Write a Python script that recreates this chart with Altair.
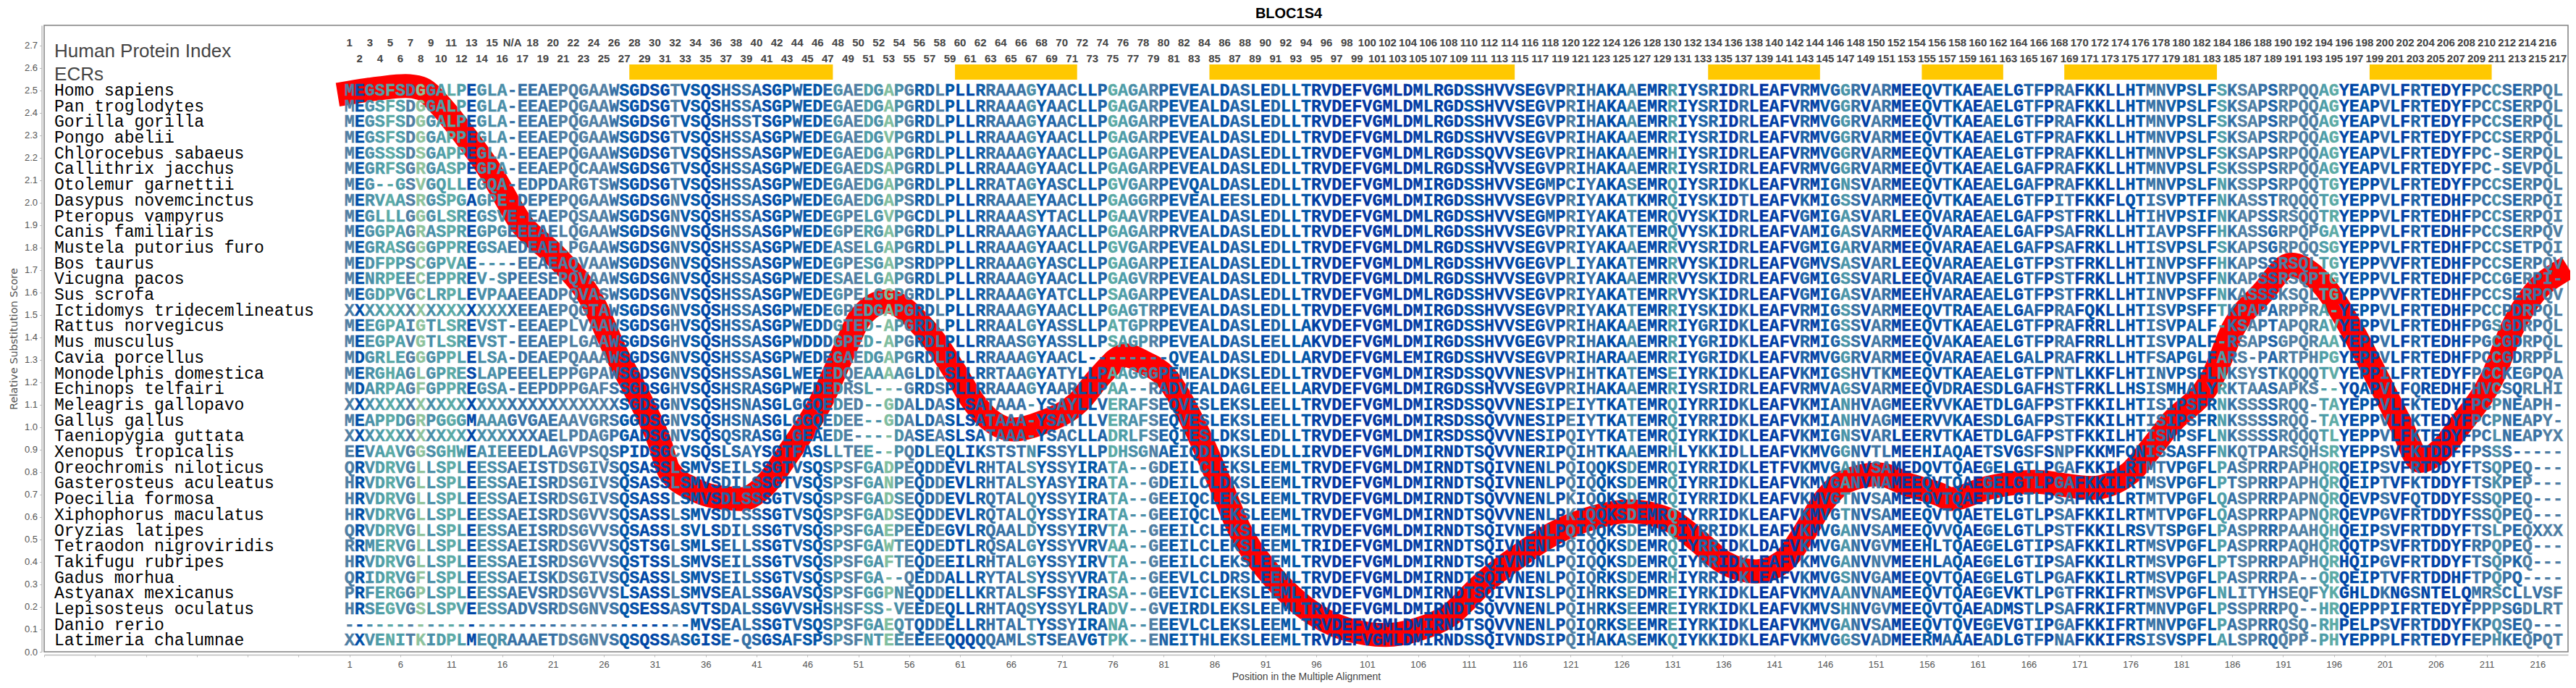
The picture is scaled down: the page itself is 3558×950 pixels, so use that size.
import altair as alt
import pandas as pd

alt.data_transformers.disable_max_rows()

species = ["Homo sapiens","Pan troglodytes","Gorilla gorilla","Pongo abelii","Chlorocebus sabaeus","Callithrix jacchus",
"Otolemur garnettii","Dasypus novemcinctus","Pteropus vampyrus","Canis familiaris","Mustela putorius furo","Bos taurus",
"Vicugna pacos","Sus scrofa","Ictidomys tridecemlineatus","Rattus norvegicus","Mus musculus","Cavia porcellus",
"Monodelphis domestica","Echinops telfairi","Meleagris gallopavo","Gallus gallus","Taeniopygia guttata","Xenopus tropicalis",
"Oreochromis niloticus","Gasterosteus aculeatus","Poecilia formosa","Xiphophorus maculatus","Oryzias latipes",
"Tetraodon nigroviridis","Takifugu rubripes","Gadus morhua","Astyanax mexicanus","Lepisosteus oculatus","Danio rerio",
"Latimeria chalumnae"]

seg_a = ["MEGSFSDGGALPEGLA-EEAEPQGAAWSGD","MEGSFSDGGALPEGLA-EEAEPQGAAWSGD","MEGSFSDGGALPEGLA-EEAEPQGAAWSGD",
"MEGSFSDGGAPPEGLA-EEAEPQGAAWSGD","MEGSSSDSGAPPEGLA-EEAEPQGAAWSGD","MEGRFSGRGASPEGPA-EEAEPQCAAWSGD",
"MEG--GSVGQLLEGQA-EDPDARGTSWSGD","MERVAASRGSPGAGPE-DEPEPQGAAWSGD","MEGLLLGGGLSREGSVE-EAEPQSAAWSGD",
"MEGGPAGRASPREGPGEEEAELQGAAWSGD","MEGRASGGGPPREGSAEDEAELPGAAWSGD","MEDFPPSCGPVAE----EEAEAQVAAWSGD",
"MENRPEECEPPREV-SPEESEPQVAAWSGD","MEGDPVGCLRPLEVPAAEEADPQVASWSGD","XXXXXXXXXXXXXXXXXEEAEPQGTAWSGD",
"MEEGPAIGTLSREVST-EEAEPLVAAWSGD","MEEGPAVGTLSREVST-EEAEPLGAAWSGD","MDGRLEGGGPPLELSA-DEAEPQAAAWSGD",
"MERGHAGLGPRESLAPEEELEPPGPAWSGD","MDARPAGFGPPREGSA-EEPDPPGAFSSGD","XXXXXXXXXXXXXXXXXXXXXXXXXXXSGD",
"MEAPPDGRPGGGMAAAGVGAEAAVGRSGGD","XXXXXXXXXXXXXXXXXXXAELPDAGPGAD","EEVAAVGGSGHWEAIEEEDLAGVPSQSPID",
"QRVDRVGLLSPLEESSAEISTDSGIVSQSA","HRVDRVGLLSPLEESSAEISRDSGIVSQSA","HRVDRVGLLSPLEESSAEISRDSGIVSQSA",
"HRVDRVGLLSPLEESSAEISRDSGVVSQSA","QRVDRVGLLSPLEESSAEISRDSGVVSQSA","RRMERVGLLSPLEESSAEISRDSGVVSQST",
"HRVDRVGLLSPLEESSAEISRDSGVVSQST","QRIDRVGFLSPLEESSAEISKDSGIVSQSA","PRFERGGPLSPLEESSAEVSRDSGVVSLSA",
"HRSEGVGSLSPVEESSADVSRDSGNVSQSE","------------------------------","XXVENITKIDPLMEQRAAAETDSGNVSQSQ"]

seg_b = ["SGTVSQSHSSASGPWEDEGAEDGAPGRDLPLLRRAAAGYAACLLPGAGARPEVEALDASLEDLL",
"SGTVSQSHSSASGPWEDEGAEDGAPGRDLPLLRRAAAGYAACLLPGAGARPEVEALDASLEDLL",
"SGTVSQSHSSTSGPWEDEGAEDGAPGRDLPLLRRAAAGYAACLLPGAGARPEVEALDASLEDLL",
"SGTVSQSHSSASGPWEDEGAEDGVPGRDLPLLRRAAAGYAACLLPGAGARPEVEALDASLEDLL",
"SGTVSQSHSSASGPWEDEGAEDGAPGRDLPLLRRAAAGYAACLLPGAGARPEVEALDASLEDLL",
"SGTVSQSHSSASGPWEDEGAEDSAPGRDLPLLRRAAAGYAACLLPGAGARPEVEALDASLEDLL",
"SGTVSQSHSSASGPWEDEGAEDGAPGRDLPLLRRATAGYASCLLPGVGARPEVQALDASLEDLL",
"SGNVSQSHSSASGPWEDEGAEDGAPSRDLPLLRRAAAEYAACLLPGAGGRPEVEALEESLEDLL",
"SGNVSQSHSSASGPWEDEGPELGVPGCDLPLLRRAAASYTACLLPGAAVRPEVEALDASLEDLL",
"SGNVSQSHSSASGPWEDEGPERGAPGRDLPLLRRAAAGYAACLLPGAGARPRVEALDASLEDLL",
"SGNVSQSHSSASGPWEDEASELGAPGRDLPLLRRAAAGYAACLLPGVGARPEVEALDASLEDLL",
"SGNVSQSHSSASGPWEDEGPESGAPSRDPPLLRRAAAGYASCLLPGAGARPEIEALDASLEDLL",
"SGNVSQSHSSASGPWEDESAELGAPGRDLPLLRRAAAGYAACLLPGAGVRPEVEALDASLEDLL",
"SGNVSQSHSSASGPWEDEGPELGGPGRDLPLLRRAAAGYATCLLPSAGARPEVEALDASLEDLL",
"SGNVSQSHSSASGPWEDEGPEDGAPGRDLPLLRRAAAGYAACLLPGAGTRPEVEALDASLEDLL",
"SGHVSQSHSSASGPWEDDGTED-APGRDLPLLRRAALGYASSLLPATGPRPEVEALDASLEDLL",
"SGHVSQSHSSASGPWDDDGPED-APGRDLPLLRRAASGYASSLLPSAGPRPEVEALDASLEELL",
"SGNVSQSHSSASGPWEDEGAEDGAPGRDLPLLRRAAAGYAACL--------QVEALDASLEDLL",
"SGNVSQSHSSASGLWEEEDQEAAAAGLDLSLLRRTAAGYATYLLPAAGGGPEMEALDKSLEDLL",
"SGHVSQSHSRASGPWEDEDRSL---GRDSPLLRRAAAGYAARLLPAA--RADVEALDAGLEELL",
"SGNVSQSHSNASGLGGQEDED--GDALDASLSATAAA-YSAYLLVERAFSEQVESLEKSLEELL",
"SGNVSQSHSNASGLGGQEDEE--GDALDASLSATAAA-YSAYLLVERAFSEQVESLEKSLEELL",
"SGNVSQSQSRASGLGEAEDE----DASEASLSATAAA-YSACLLADRLFSEQIESLDKSLEDLL",
"SGCVSQSLSAYSGTFASLLTEE--PQDLEQLIKSTSTNFSSYLLPDHSGNAEIQDLDKSLEDLL",
"SSLSMVSEILSSGTVSQSPSFGADPEQDDEVLRHTALSYSSYIRATA--GDEILCLEKSLEEML",
"SSLSMVSDILSSGTVSQSPSFGANPEQDDEVLRHTALSYASYIRATA--GDEILCLDKSLEEML",
"SSLSMVSDLSSSGTVSQSPSFGADSEQDDEVLRQTALQYSSYIRATA--GEEIQCLEKSLEEML",
"SSLSMVSDLSSSGTVSQSPSFGADSEQDDEVLRQTALQYSSYIRATA--GEEIQCLEKSLEEML",
"SSLSVLSDILSSGTVSQSPSFGAEPEEDEGVLRQAALDYSSYIRVTA--GEEILCLEKSLEEML",
"SGLSMLSELLSSGTVSQSPSFGAWTEQDEDTLRQSALGYSSYVRVAA--GEEILCLEKSLEEML",
"SSLSMVSEILSSGTVSQSPSFGAFTEQDEEILRHTALGYSSYIRVTA--GEEILCLEKSLEEML",
"SSLSMVSEILSSGTVSQSPSFGA--QEDDALLRYTALSYSSYVRATA--GEEVLCLDRSLEEML",
"SSLSMVSEALSSGAVSQSPSFGGPNEQDDELLKRTALSFSSYIRASA--GEEVICLEKSLEEML",
"SSASVTSDALSSGVVSHSHSFSS-VEEDEQLLRHTAQSYSSYLRADV--GVEIRDLEKSLEEML",
"----MVSEALSSGTVSQSPSFGAEQTQDDELLRHTALTYSSYIRANA--EEEVLCLEKSLEEML",
"SSASGISE-QSGSAFSPSPSFNTEEEEEEQQQQQAMLSTSEAVGTPK--ENEITHLEKSLEEML"]

seg_c = ["TRVDEFVGMLDMLRGDSSHVVSEGVPRIHAKAAEMRRIYSRIDRLEAFVRMVGGRVARMEE",
"TRVDEFVGMLDMLRGDSSHVVSEGVPRIHAKAAEMRRIYSRIDRLEAFVRMVGGRVARMEE",
"TRVDEFVGMLDMLRGDSSHVVSEGVPRIHAKAAEMRRIYSRIDRLEAFVRMVGGRVARMEE",
"TRVDEFVGMLDMLRGDSSHVVSEGVPRIHAKAAEMRRIYSRIDRLEAFVRMVGGRVARMEE",
"TRVDEFVGMLDMLRGDSSQVVSEGVPRIHAKAAEMRHIYSRIDRLEAFVRMVGGRVARMEE",
"TRVDEFVGMLDMLRGDSSHVVSEGVPRIHAKAAEMRRIYSRIDRLEAFVRMVGGRVARMEE",
"TRVDEFVGMLDMIRGDSSHVVSEGMPCIYAKASEMRQIYSRIDKLEAFVRMIGNSVARMEE",
"TKVDEFVGMLDMIRGDSSHVVSEGVPRIYAKATKMRQIYSKIDTLEAFVKMIGSSVARMEE",
"TRVDEFVGMLDMLRGDSSHVVSEGMPRIYAKATEMRQVYSKIDRLEAFVGMIGASVARLEE",
"TRVDEFVGMLDMLRGDSSHVVSEGVPRIYAKATEMRQVYSKIDRLEAFVAMIGASVARMEE",
"TRVDEFVGMLDMLRGDSSHVVSEGVPRIYAKAAEMRRVYSRIDRLEAFVGMIGARVARMEE",
"TRVDEFVGMLDMLRGDSSHVVGEGVPLIYAKATEMRRVYSKIDRLEAFVGMVSASVARLEE",
"TRVDEFVGMLDMLRGDSSHVVSEGVPRIYAKAAEMRRVYSKIDRLEAFVGMIGSSVARLEE",
"TRVDEFVGMLDMLRGDSSHVVSEGVPRIYAKATEMRRVYSKIDRLEAFVGMIGASVARMEE",
"TRVDEFVGMLDMIRGDSSHVVSEGVPRIYAKATEMRRIYSKIDKLEAFVRMIGSSVARMEE",
"AKVDEFVGMLDMIRGDSSHVVSEGVPRIHAKAAEMRRIYGRIDKLEAFVRMIGSSVARMEE",
"AKVDEFVGMLDMIRGDSSHVVGEGVPRIHAKAAEMRRIYGRIDKLEAFVRMIGSSVARMEE",
"ARVDEFVGMLEMIRGDSSHVVSEGVPRIHARAAEMRRIYGRIDKLEAFVRMVGGRVARMEE",
"TRVDEFVGMLDMIRSDSSQVVNESVPHIHTKATEMSEIYRKIDKLEAFVKMIGSHVTKMEE",
"ARVDEFVGMLDMIRGDSSHVVSEGVPRIHAKAAEMRRIYSRIDRLEAFVRMVAGSVARMEE",
"TRVDEFVGMLDMIRSDSSQVVNESIPEIYTKATEMRQIYRRIDKLEAFVKMIANHVAGMEE",
"TRVDEFVGMLDMIRSDSSQVVNESIPEIYTKATEMRQIYRRIDKLEAFVKMIANHVAGMEE",
"TRVDEFVGMLDMIRSDSSQVVNESIPQIYTKATEMRQIYRKIDKLEAFVKMIGNSVARLEE",
"IRVDEFVGMLDMIRNDTSQVVNERIPQIHTKAAEMRHLYKKIDLLEAFVKMVGGNVTLMEE",
"TRVDEFVGMLDMIRNDTSQIVNENLPQIQQKSDEMRQIYRRIDKLETFVKMVGANVSAMED",
"TRVDEFVGMLDMIRNDTSQIVNENLPQIQQKSDEMRQIYRRIDKLEAFVKMVGANVNAMEE",
"TRVDEFVGMLDMIRNDTSQVVNENLPKIQQKSDEMRQIYRRIDKLEAFVKMVGTNVSAMEE",
"TRVDEFVGMLDMIRNDTSQVVNENLPKIQQKSDEMRQIYRRIDKLEAFVKMVGTNVSAMEE",
"TRVDEFVGMLDMIRNDTSQIVNENLPQIQQKSDEMRQIYRRIDKLEAFVKMVGANVSAMEE",
"TRIDEFVGMLDMIRNDTSQIVNENLPQIQQKSDEMRQIYRRIDKLDAFVKMVGANVGVMEE",
"TRVDEFVGMLDMIRNDTSQIVNDNLPQIQQKSDEMRQIYRRIDKLEAFVKMVGANVNVMEE",
"TRVDEFVGMLDMIRNDTSQIVNENLPQIQRKSDEMRHIYRRIDKLEAFVKMVGSNVGAMEE",
"TRVDEFVGMLDMIRNDTSQIVNISLPQIHRKSEDMREIYRKIDKLEAFVKMVAANVNAMEE",
"TRVDEFVGMLDMIRNDTSQVVNENLPQIHRKSEEMREIYRKIDKLEAFVKMVSHNVGVMEE",
"TRVDEFVGMLDMIRNDTSQVVNENLPQIQRKSEEMREIYRKIDKLEAFVKMVGANVSAMEE",
"TRVDEFVGMLDMIRNDSSQIVNDSIPQIHAKASEMKQIYKKIDKLEAFVKMVGGSVADMEE"]

seg_d = ["QVTKAEAELGTFPRAFKKLLHTMNVPSLFSKSAPSRPQQAGYEAPVLFRTEDYFPCCSERPQL",
"QVTKAEAELGTFPRAFKKLLHTMNVPSLFSKSAPSRPQQAGYEAPVLFRTEDYFPCCSERPQL",
"QVTKAEAELGTFPRAFKKLLHTMNVPSLFSKSAPSRPQQAGYEAPVLFRTEDYFPCCSERPQL",
"QVTKAEAELGTFPRAFKKLLHTMNVPSLFSKSAPSRPQQAGYEAPVLFRTEDYFPCCSERPQL",
"QVTKAEAELGTFPRAFKKLLHTMNVPSLFSKSAPSRPQQAGYEAPVLFRTEDYFPC-SERPQL",
"QVTKAEAELGAFPRAFKKLLHTMNVPSLFSKSSPSRPQQAGYEAPVLFRTEDYFPC-SEVPQL",
"QVTKAEAELGAFPRAFKKLLHTMNVPSLFNKSSPSRPQQTGYEPPVLFRTEDYFPCCSERPQL",
"QVTKAEAELGTFPITFKKFLQTISVPTFFNKASSTRQQQTGYEPPVLFRTEDHFPCCSERPQI",
"QVARAEAELGAFPSTFRKLLHTIHVPSIFNKAPSSRSQQTRYEPPVLFRTEDHFPCCSERPQI",
"QVARAEAELGAFPSAFRKLLHTIAVPSFFHKASSGRPQPGAYEPPVLFRTEDHFPCCSERPQV",
"QVARAEAELGAFPSAFRKLLHTISVPSLFSKAPSGRPQQSGYEPPVLFRTEDHFPCCSETPQI",
"QVARAEAELGTFPSTFRKLLHTINVPSFFHKAPSSRSQLTGYEPPVVFRTEDHFPCCSERPQV",
"QVARAEAELGTFPSTFRKLLHTINVPSFFNKAPSSRSQPTGYEPPVLFRTEDHFPCCGERPI-",
"HVARAEAELGTFPSTFRKLLHTINVPSFFNKASSSKSQLTGYEPPVVFRTEDHFPCCSERPQV",
"QVTRAEAELGAFPRAFQKLLHTISVPSFFTKPAPARPPRA-YEPPVLFRTEDHFPCCPDRPQL",
"QVTKAEAELGTFPRAFRRLLHTISVPALF-KSAPTAPQRAVYEPPVLFRTEDHFPGSGDRPQL",
"QVAKAEAELGTFPRAFRRLLHTISVPALF-RSAPSGPQRAAYEPPVLFRTEDHFPGCGDRPQL",
"QVARAEAELGALPRAFRKLLHTFSAPGLFARS-PARTPHPGYEPPVLFRTEDHFPCCGDRPPL",
"QVTKAEAELGTFPNTLKKFLHTINVPSFLNKSYSTKQQQTVYEPPILFRTEDYFPCCKEGPQA",
"QVDRAESDLGAFHSTFRKLLHSISMHALYRKTAASAPKS--YQAPVLFQREDHFHVCSQRLHI",
"RVVKAETDLGAFPSTFKKILHTISIPSFRNKSSSSRQQ-TAYEPPVLFKTEDYFPCPNEAPH-",
"RVVKAESDLGAFPSTFKKILHTISIPSFRNKSSSSRQQ-TAYEPPVLFKTEDYFPCPNEAPY-",
"RVTKAETDLGAFPSTFKKILHTISMPSFLNKSSSSRQQQTLYEPPVLFKTEDYFPCLNEAPYX",
"HIAQAETSVGSFSNPFKKMFQNISSASFFNKQTPARSQHSRYEPPSVFKTDDFFPSSS-----",
"QVTQAEGELGTLPGAFKKILRTMTVPGFLPASPRRPAPHQRQEIPSVFRTDDYFTSQPEQ---",
"QVTQAEGELGTLPGAFKKILRTMSVPGFLPTSPRRPAPHQRQEIPTVFKTDDYFTSKPEP---",
"QVTQAETDLGTLPSAFKKILRTMTVPGFLQASPRRPAPNQRQEVPSVFQTDDYFSSQPEQ---",
"QVTQAETELGTLPSAFKKILRTMTVPGFLQASPRRPAPNQRQEVPGVFRTDDYFSSQPEQ---",
"QVVQAEGELGTLPSTFKKILRSVTSPGFLPASPRRPAAHQHQEIPSVFRTDDYFTSLPEQXXX",
"HLTQAEGELGTIPSAFKKILRTMSVPGFLPASPRRPAQHQRQQTPSVFRTDDYFRPQPEQ---",
"HLAQAEGELGTIPSAFKKILRTMSVPGFLPTSPRRPAPHQRHQIPGVFRTDDYFTSQPKQ---",
"QVTQAEGELGTLPGAFKKILRTMSVPGFLPASPRRPA--QRQEIPTVFRTDDHFTPQPQ----",
"QVTQAEGEVKTLPGTFRKIFRTMSVPGFLNLITYHSEQFYKGHLDKNGSNTELQMRSCLLVSF",
"QVTQAEADMSTLPSAFRKIFRTMNVPGFLPSSPRRPQ--HRQEPPPIFRTEDYFPPPSGDLRT",
"QVTQVEGEVGTIPGAFKKIFRTMNVPGFLPASPRRQSQ-RHPELPSVFRTDDYFKPQSEQ---",
"RMAAAEADLGTFPNAFKKIFRSISVSPFLALSPRQQPP-PHYEPPPLFRTEDYFEPHKEQPQT"]

# shade of each alignment column, 0 = strongly conserved (dark blue) .. 10 = weakly conserved (pale green)
shade_a = [5,1.5,6,7,8,7,5,10,6,7,8,7,1,6,6,6,4,4,4,4,4,5,5,5,5,5,4,2,1.5,1]
shade_b = [1,1,5,2,2,1,1,3,3,4,3,1,1.5,2,3,2,2,3,6,5,5,7,6,9.5,6,5,2.5,3,5,2,1,1,2.5,4,4,4,4,6,2,3,4,4,2,2,3,8,7,6,6,5,3,2,3,2,3,2,1.5,3,3,1.5,1,3,2,2]
shade_c = [2,.5,.5,0,0,0,0,0,0,0,0,.5,1,.5,.5,.5,2,1,1,.5,1,1,1,1,3,1,5,1.5,4,2,1,2,6,1,1,1,7,.5,1,3,3,0,0,4,0,0,.5,0,0,3,.5,2,3,6.5,4,.5,4.5,4,.5,0,.5]
shade_d = [2,1,3,2,1,0,3,2,1,1,3,3,.5,4,4,.5,1.5,.5,1,1,1.5,2,4,4,2.5,2,3,2,2,7,4,5,5,4,3,5,5,5,5,7,8,1,1,2,1,4,1,.5,3,1,1,0,1,.5,4,4,6,4,3,5,4,5,5]

rate_pos = [1,4,6.5,8,10,11.2,14.7,18,21.2,25,27.2,29.6,31.5,32.4,35,37,39.5,42,44,47.4,49.5,51.2,53.8,57.5,60.8,62.2,66.3,69,72.8,74.7,77.3,79,81.2,84,86.4,88.4,91.8,94.8,99,102.8,106,109,112.4,116,119.3,123.4,126.7,130.7,133.6,136,139.2,141.8,143.9,145.8,147.9,151.2,154.4,157.3,158.3,162,166.5,172.2,175.9,177.9,179.8,184.1,186.1,189,191.8,194.7,197.7,200.2,202.6,204.5,206.5,208.4,211.6,213.5,215.7,218]
rate_val = [2.49,2.51,2.52,2.51,2.43,2.365,2.15,1.9,1.765,1.55,1.33,1.12,.93,.806,.72,.69,.68,.75,.875,1.12,1.33,1.49,1.56,1.44,1.225,1.12,.99,1.02,1.12,1.225,1.32,1.29,1.225,1.01,.765,.55,.33,.2,.10,.075,.10,.16,.306,.43,.526,.60,.626,.587,.49,.40,.358,.40,.526,.667,.757,.79,.74,.70,.68,.73,.757,.73,.795,.90,1.01,1.225,1.44,1.60,1.725,1.645,1.44,1.225,1.01,.85,.90,1.01,1.225,1.44,1.60,1.685]

ecr_start = [28.5,60.5,85.5,134.5,155.5,169.5,199.5]
ecr_end = [48.5,72.5,115.5,145.5,163.5,184.5,211.5]

seqs = [a+b+c+d for a,b,c,d in zip(seg_a,seg_b,seg_c,seg_d)]
shades = shade_a+shade_b+shade_c+shade_d

row_y = [2.5-0.07*i for i in range(len(species))]
letters = pd.DataFrame([{"x":j+1,"y":row_y[i],"t":ch,"c":shades[j]} for i,q in enumerate(seqs) for j,ch in enumerate(q)])
names = pd.DataFrame({"x":[-28]*len(species),"y":row_y,"t":species})
index_lab = []
for col in range(1,219):
    lab = str(col) if col<17 else ("N/A" if col==17 else str(col-1))
    index_lab.append({"x":col,"y":2.714 if col%2 else 2.643,"t":lab})
index_df = pd.DataFrame(index_lab)
head_df = pd.DataFrame({"x":[-28,-28],"y":[2.674,2.571],"t":["Human Protein Index","ECRs"]})
ecr_df = pd.DataFrame({"x":ecr_start,"x2":ecr_end,"y":[2.548]*7,"y2":[2.616]*7})
rate_df = pd.DataFrame({"x":rate_pos,"y":rate_val})

xs = alt.Scale(domain=[-29,219],nice=False,zero=False)
ys = alt.Scale(domain=[0,2.79],nice=False,zero=False)

x_axis = alt.Axis(values=list(range(-29,217,5)),labelExpr="datum.value >= 1 ? datum.label : ''",format="d",
    title="Position in the Multiple Alignment",titleFont="Liberation Sans",titleFontSize=14,titleFontWeight="normal",titleColor="#444444",
    titlePadding=3,labelFont="Liberation Sans",labelFontSize=13,labelColor="#555555",domainColor="#bbbbbb",tickColor="#bbbbbb",
    tickSize=3,offset=4,grid=False,domainWidth=1.5,labelPadding=4,labelOverlap=False,labelFlush=False)
y_axis = alt.Axis(values=[round(i*0.1,1) for i in range(28)],format=".1f",title="Relative Substitution Score",
    titleFont="DejaVu Sans",titleFontSize=14.5,titleFontWeight="normal",titleColor="#555555",titlePadding=7,
    labelFont="Liberation Sans",labelFontSize=13,labelColor="#555555",domainColor="#bbbbbb",tickColor="#bbbbbb",
    tickSize=3,offset=3.5,grid=False,domainWidth=1.5,labelPadding=3,labelOverlap=False)

X = alt.X("x:Q",scale=xs,axis=x_axis)
Y = alt.Y("y:Q",scale=ys,axis=y_axis)

ecr = alt.Chart(ecr_df).mark_rect(color="#ffc800").encode(x=X,x2="x2:Q",y=Y,y2="y2:Q")
line = alt.Chart(rate_df).mark_line(color="#ff0000",strokeWidth=33,interpolate="monotone",strokeCap="square",strokeJoin="round").encode(x=X,y=Y)
def text(df,**kw):
    return alt.Chart(df).mark_text(baseline="middle",**kw).encode(x=X,y=Y,text="t:N")
shade_scale = alt.Scale(domain=[0,5,10],range=["#0236a3","#4f7ea3","#8dc29c"])
letter_layer = alt.Chart(letters).mark_text(baseline="middle",align="center",font="Liberation Mono",fontWeight="bold",fontSize=23.4,strokeWidth=0.4).encode(
    x=X,y=Y,text="t:N",
    color=alt.Color("c:Q",scale=shade_scale,legend=None),
    stroke=alt.Stroke("c:Q",scale=shade_scale,legend=None))
name_layer = text(names,align="left",font="Liberation Mono",fontSize=23,color="#000000")
index_layer = text(index_df,align="center",font="Liberation Sans",fontWeight="bold",fontSize=15,color="#444444")
head_layer = text(head_df,align="left",font="Liberation Sans",fontSize=26,color="#444444")

chart = alt.layer(ecr,line,letter_layer,name_layer,index_layer,head_layer).properties(
    width=3486,height=865,
    title=alt.TitleParams("BLOC1S4",font="Liberation Sans",fontSize=20,fontWeight="bold",color="#000000",anchor="middle",dx=-24,offset=6),
    padding={"left":53,"top":27,"right":3,"bottom":46},
    autosize=alt.AutoSizeParams(type="none"),
).configure_view(stroke="#808080",strokeWidth=1.5)

chart.save("out.html", embed_options={"renderer": "svg", "actions": False})
